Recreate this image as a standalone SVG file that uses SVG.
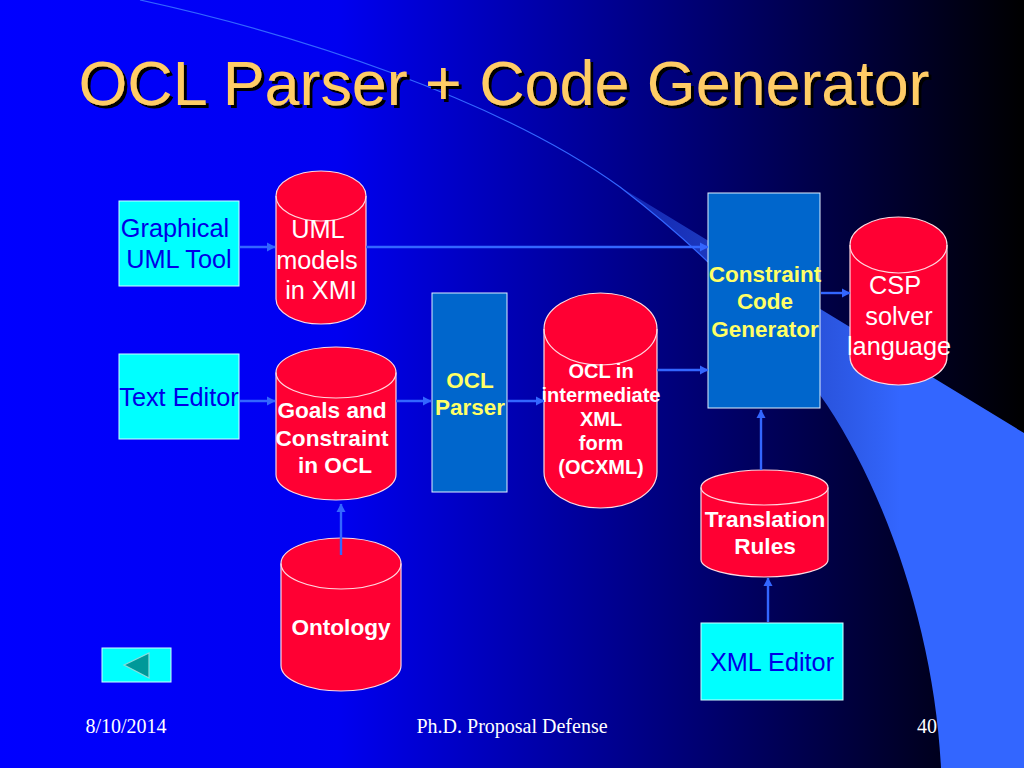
<svg xmlns="http://www.w3.org/2000/svg" width="1024" height="768" viewBox="0 0 1024 768">
<defs>
<linearGradient id="bg" x1="0" y1="0" x2="1" y2="0"><stop offset="0" stop-color="#0000ff"/><stop offset="0.33" stop-color="#0000f0"/><stop offset="1" stop-color="#000000"/></linearGradient>
<linearGradient id="sw" gradientUnits="userSpaceOnUse" x1="600" y1="0" x2="900" y2="0"><stop offset="0" stop-color="#3366ff" stop-opacity="0.3"/><stop offset="1" stop-color="#3366ff"/></linearGradient>
<marker id="ah" markerWidth="10" markerHeight="10" refX="8" refY="5" orient="auto" markerUnits="userSpaceOnUse"><path d="M0 0.5L8.5 5L0 9.5Z" fill="#3366ff"/></marker>
<filter id="sh" x="-5%" y="-20%" width="110%" height="140%"><feDropShadow dx="3" dy="3" stdDeviation="0.6" flood-color="#000000"/></filter>
</defs>
<style>
.n{fill:#ff0033;stroke:#ffd8e0;stroke-width:1.2}
.e{fill:none;stroke:#ffd8e0;stroke-width:1.2}
.c{fill:#00ffff;stroke:#d0ffff;stroke-width:1}
.b{fill:#0066cc;stroke:#e0f0ff;stroke-width:1}
.l{stroke:#3366ff;stroke-width:2.4;fill:none;marker-end:url(#ah)}
text{font-family:"Liberation Sans",Arial,sans-serif;text-anchor:middle}
.t{font-size:25.3px;fill:#ffffff}
.u{font-size:25.3px;fill:#0000e6}
.w{font-size:22.6px;font-weight:bold;fill:#ffffff}
.s{font-size:20px;font-weight:bold;fill:#ffffff}
.y{font-size:22.5px;font-weight:bold;fill:#ffff66}
.f{font-family:"Liberation Serif",serif;font-size:20px;fill:#ffffff}
</style>
<rect width="1024" height="768" fill="url(#bg)"/>
<path d="M620 187L1024 433V768H941C935 640 890 500 827 405C790 350 750 305 708 262C680 235 650 210 620 187Z" fill="url(#sw)"/>
<path d="M140 0C300 35 500 100 620 187C650 210 680 235 708 262" fill="none" stroke="#3366ff" stroke-width="1.2"/>
<text x="504" y="105" filter="url(#sh)" style="font-size:62.8px;fill:#ffcc66">OCL Parser + Code Generator</text>
<g id="graphical"><rect class="c" x="119" y="201" width="120" height="85"/><text class="u" x="175" y="237">Graphical</text><text class="u" x="179" y="268">UML Tool</text></g>
<g id="uml"><path class="n" d="M276 196A45 25 0 0 1 366 196V299A45 25 0 0 1 276 299Z"/><path class="e" d="M276 196A45 25 0 0 0 366 196"/><text class="t" x="318" y="238">UML</text><text class="t" x="317" y="269">models</text><text class="t" x="321" y="299">in XMI</text></g>
<g id="texteditor"><rect class="c" x="119" y="354" width="120" height="85"/><text class="u" x="179" y="406">Text Editor</text></g>
<g id="goals"><path class="n" d="M276 372.500A60 25.500 0 0 1 396 372.500V474.500A60 25.500 0 0 1 276 474.500Z"/><path class="e" d="M276 372.500A60 25.500 0 0 0 396 372.500"/><text class="w" x="332" y="418">Goals and</text><text class="w" x="332" y="446">Constraint</text><text class="w" x="335" y="473">in OCL</text></g>
<g id="ontology"><path class="n" d="M281 563.500A60 25.500 0 0 1 401 563.500V665.500A60 25.500 0 0 1 281 665.500Z"/><path class="e" d="M281 563.500A60 25.500 0 0 0 401 563.500"/><text class="w" x="341" y="635">Ontology</text></g>
<g id="parser"><rect class="b" x="432" y="293" width="75" height="199"/><text class="y" x="470" y="388">OCL</text><text class="y" x="470" y="415">Parser</text></g>
<g id="ocl"><path class="n" d="M544 329A56.500 36 0 0 1 657 329V472A56.500 36 0 0 1 544 472Z"/><path class="e" d="M544 329A56.500 36 0 0 0 657 329"/><text class="s" x="601" y="378">OCL in</text><text class="s" x="601" y="402">intermediate</text><text class="s" x="601" y="426">XML</text><text class="s" x="601" y="450">form</text><text class="s" x="601" y="474">(OCXML)</text></g>
<g id="generator"><rect class="b" x="708" y="193" width="112" height="215"/><text class="y" x="765" y="282">Constraint</text><text class="y" x="765" y="309">Code</text><text class="y" x="765" y="337">Generator</text></g>
<g id="csp"><path class="n" d="M850 245A48.500 28 0 0 1 947 245V357A48.500 28 0 0 1 850 357Z"/><path class="e" d="M850 245A48.500 28 0 0 0 947 245"/><text class="t" x="895" y="294">CSP</text><text class="t" x="899" y="325">solver</text><text class="t" x="899" y="355">language</text></g>
<g id="rules"><path class="n" d="M701 487.500A63.500 17.500 0 0 1 828 487.500V559.500A63.500 17.500 0 0 1 701 559.500Z"/><path class="e" d="M701 487.500A63.500 17.500 0 0 0 828 487.500"/><text class="w" x="765" y="527">Translation</text><text class="w" x="765" y="554">Rules</text></g>
<g id="xmleditor"><rect class="c" x="701" y="623" width="142" height="77"/><text class="u" x="772" y="671">XML Editor</text></g>
<g id="back"><rect class="c" x="102" y="648" width="69" height="34"/><path d="M124 665L149 653V678Z" fill="#009999" stroke="#88dddd" stroke-width="1.2"/></g>
<g id="connectors">
<line class="l" x1="240" y1="247" x2="275" y2="247"/>
<line class="l" x1="366" y1="247" x2="708" y2="247"/>
<line class="l" x1="240" y1="401" x2="275" y2="401"/>
<line class="l" x1="396" y1="401" x2="431" y2="401"/>
<line class="l" x1="508" y1="401" x2="544" y2="401"/>
<line class="l" x1="657" y1="370" x2="708" y2="370"/>
<line class="l" x1="821" y1="293" x2="850" y2="293"/>
<line class="l" x1="341" y1="555" x2="341" y2="504"/>
<line class="l" x1="761" y1="470" x2="761" y2="410"/>
<line class="l" x1="768" y1="622" x2="768" y2="578"/>
</g>
<text class="f" x="126" y="733">8/10/2014</text>
<text class="f" x="512" y="733">Ph.D. Proposal Defense</text>
<text class="f" x="927" y="733">40</text>
</svg>
